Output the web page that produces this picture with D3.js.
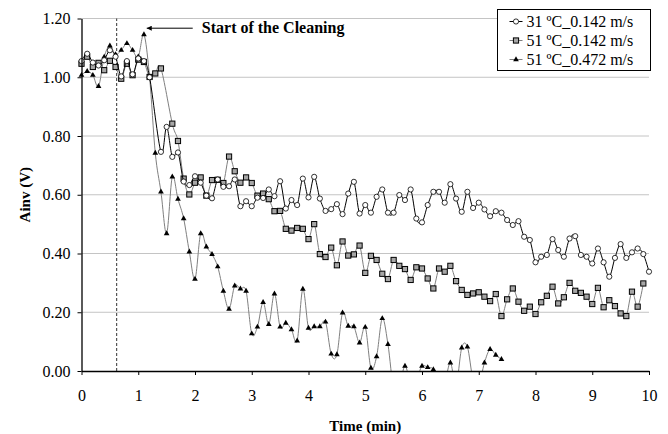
<!DOCTYPE html>
<html>
<head>
<meta charset="utf-8">
<script src="https://cdn.jsdelivr.net/npm/d3@7"></script>
<style>
	body { margin: 0; background: #fff; }
	text { font-family: "Liberation Serif", "Times New Roman", serif; }
</style>
</head>
<body>
<svg id="body" width="668" height="434"></svg>
<script>
// values, one reading every 0.1 min (null = no marker there)
let seriesNames = ["31 ºC_0.142 m/s", "51 ºC_0.142 m/s", "51 ºC_0.472 m/s"]

let circleValues = [1.055, 1.08, 1.05, 1.04, 1.058, 1.092, 1.07, 1.003, 1.055, 1.01,
	1.064, 1.055, 1.0, null, 0.746, 0.831, 0.729, 0.744, 0.645, 0.633,
	0.663, 0.641, 0.597, 0.588, 0.652, 0.627, 0.629, 0.652, 0.561, 0.578,
	0.561, 0.59, 0.589, 0.618, 0.595, 0.646, 0.553, 0.582, 0.565, 0.655,
	0.591, 0.661, 0.587, 0.545, 0.551, 0.568, 0.534, 0.604, 0.644, 0.536,
	0.565, 0.539, 0.593, 0.618, 0.539, 0.539, 0.599, 0.582, 0.618, 0.519,
	0.506, 0.565, 0.61, 0.61, 0.573, 0.636, 0.587, 0.542, 0.61, 0.555,
	0.573, 0.55, 0.527, 0.544, 0.539, 0.514, 0.497, 0.51, 0.457, 0.446,
	0.37, 0.389, 0.395, 0.449, 0.412, 0.389, 0.451, 0.459, 0.395, 0.389,
	0.366, 0.417, 0.37, 0.321, 0.385, 0.432, 0.385, 0.404, 0.417, 0.398,
	0.338]

let squareValues = [1.046, 1.07, 1.035, 1.049, 1.024, 1.056, 1.035, 0.995, 1.046, 1.007,
	1.06, 1.052, 1.001, 1.013, 1.03, null, 0.842, 0.783, 0.655, 0.601,
	0.641, 0.659, 0.597, 0.65, 0.651, 0.64, 0.73, 0.68, 0.641, 0.659,
	0.64, 0.597, 0.604, 0.585, 0.544, 0.545, 0.484, 0.478, 0.487, 0.484,
	0.449, 0.5, 0.398, 0.388, 0.42, 0.36, 0.441, 0.393, 0.397, 0.427,
	0.334, 0.392, 0.378, 0.331, 0.313, 0.378, 0.358, 0.347, 0.31, 0.353,
	0.349, 0.315, 0.281, 0.349, 0.338, 0.358, 0.306, 0.276, 0.259, 0.264,
	0.268, 0.253, 0.238, 0.262, 0.187, 0.244, 0.281, 0.236, 0.205, 0.219,
	0.194, 0.234, 0.256, 0.287, 0.23, 0.251, 0.3, 0.273, 0.266, 0.253,
	0.228, 0.283, 0.217, 0.241, 0.221, 0.196, 0.187, 0.27, 0.219, 0.298]

let triangleValues = [1.007, 1.02, 1.007, 0.969, 1.069, 1.107, 1.077, 1.092, 1.115, 1.092,
	1.07, 1.145, 1.0, 0.742, 0.61, 0.468, 0.661, 0.585, 0.519, 0.406,
	0.313, 0.468, 0.423, 0.397, 0.355, 0.272, 0.211, 0.29, 0.28, 0.272,
	0.127, 0.15, 0.234, 0.159, 0.263, 0.15, 0.163, 0.141, 0.103, 0.279,
	0.146, 0.151, 0.151, 0.167, 0.058, 0.056, 0.198, 0.153, 0.151, 0.096,
	0.149, 0.01, 0.049, 0.179, 0.091, -0.06, -0.05, 0.017, -0.04, -0.03,
	0.017, 0.012, 0.005, -0.05, -0.04, 0.028, -0.05, 0.079, 0.082, -0.03,
	-0.05, 0.028, 0.074, 0.054, 0.04]

let xTicks = [0, 1, 2, 3, 4, 5, 6, 7, 8, 9, 10]
let yTicks = [0, 0.2, 0.4, 0.6, 0.8, 1.0, 1.2]

let cleaningStart = 0.62
let annotation = "Start of the Cleaning"

let body = d3.select("#body")

//Set dimensions and margins of graph
let margin = {top: 18.5, left: 81.5}
let bodyWidth = 567.5
let bodyHeight = 352.5

let xscale = d3.scaleLinear().domain([0, 10]).range([0, bodyWidth])
let yscale = d3.scaleLinear().domain([0, 1.2]).range([bodyHeight, 0])

let plot = body.append("g")
	.attr("transform", "translate(" + margin.left + "," + margin.top + ")")

plot.append("clipPath").attr("id", "clip")
	.append("rect")
	.attr("x", 0).attr("y", -5)
	.attr("width", bodyWidth + 5).attr("height", bodyHeight + 5)

//gridlines
plot.append("g").selectAll("line")
	.data(yTicks.filter(d => d > 0))
	.enter().append("line")
	.attr("x1", 0).attr("x2", bodyWidth)
	.attr("y1", d => yscale(d)).attr("y2", d => yscale(d))
	.attr("stroke", "#c4c4c4")
	.attr("stroke-width", 1)

//dashed start line
plot.append("line")
	.attr("x1", xscale(cleaningStart)).attr("x2", xscale(cleaningStart))
	.attr("y1", yscale(0)).attr("y2", yscale(1.2))
	.attr("stroke", "#333")
	.attr("stroke-width", 1)
	.attr("stroke-dasharray", "3,2")

function toPoints(values) {
	return values.map((v, i) => ({time: i / 10, value: v})).filter(d => d.value !== null)
}

let series = [
	{name: seriesNames[0], points: toPoints(circleValues), line: "#000", marker: "circle"},
	{name: seriesNames[1], points: toPoints(squareValues), line: "#7f7f7f", marker: "square"},
	{name: seriesNames[2], points: toPoints(triangleValues), line: "#7f7f7f", marker: "triangle"}
]

let valueLine = d3.line()
	.x(d => xscale(d.time))
	.y(d => yscale(d.value))
	.curve(d3.curveCardinal.tension(0))

function drawMarker(sel, type) {
	if (type === "circle") {
		sel.append("circle").attr("r", 2.6)
			.attr("fill", "#fff").attr("stroke", "#000").attr("stroke-width", 0.8)
	} else if (type === "square") {
		sel.append("rect").attr("x", -2.6).attr("y", -2.6).attr("width", 5.2).attr("height", 5.2)
			.attr("fill", "#a6a6a6").attr("stroke", "#000").attr("stroke-width", 1)
	} else {
		sel.append("path").attr("d", d3.symbol().type(d3.symbolTriangle).size(14))
			.attr("fill", "#000")
	}
}

//draw series back to front
series.slice().reverse().forEach(s => {
	plot.append("path")
		.datum(s.points)
		.attr("d", valueLine)
		.attr("fill", "none")
		.attr("stroke", s.line)
		.attr("stroke-width", 1)
		.attr("clip-path", "url(#clip)")

	let marks = plot.append("g").selectAll("g")
		.data(s.points.filter(d => d.value >= 0))
		.enter().append("g")
		.attr("transform", d => "translate(" + xscale(d.time) + "," + yscale(d.value) + ")")
	drawMarker(marks, s.marker)
})

//Add the y axis
let yAxis = plot.append("g")
	.call(d3.axisLeft(yscale).tickValues(yTicks).tickFormat(d3.format(".2f")).tickSize(4).tickSizeOuter(0))
yAxis.selectAll("text").style("font-size", "16px").attr("fill", "#000").attr("x", -11)
yAxis.selectAll("line").attr("stroke", "#000")
yAxis.select(".domain").attr("stroke", "#000").attr("stroke-width", 1.3)

//Add the x axis
let xAxis = plot.append("g")
	.attr("transform", "translate(0," + bodyHeight + ")")
	.call(d3.axisBottom(xscale).tickValues(xTicks).tickFormat(d3.format("d")).tickSize(4).tickSizeOuter(0))
xAxis.selectAll("text").style("font-size", "16px").attr("fill", "#000").attr("y", 19)
xAxis.selectAll("line").attr("stroke", "#000")
xAxis.select(".domain").attr("stroke", "#000").attr("stroke-width", 1.3)

//axis labels
body.append("text")
	.attr("x", margin.left + bodyWidth / 2)
	.attr("y", 431)
	.style("text-anchor", "middle")
	.style("font-size", "15px")
	.style("font-weight", "bold")
	.text("Time (min)")

body.append("text")
	.attr("transform", "translate(30," + (margin.top + bodyHeight / 2) + ") rotate(-90)")
	.style("text-anchor", "middle")
	.style("font-size", "15px")
	.style("font-weight", "bold")
	.text("Ainv (V)")

//annotation arrow
plot.append("defs").append("marker")
	.attr("id", "arrow")
	.attr("viewBox", "0 0 10 10")
	.attr("refX", 10).attr("refY", 5)
	.attr("markerWidth", 7).attr("markerHeight", 5)
	.attr("orient", "auto")
	.append("path").attr("d", "M0,0 L10,5 L0,10 z").attr("fill", "#000")

plot.append("line")
	.attr("x1", xscale(1.96)).attr("x2", xscale(1.15))
	.attr("y1", yscale(1.167)).attr("y2", yscale(1.167))
	.attr("stroke", "#000")
	.attr("stroke-width", 1)
	.attr("marker-end", "url(#arrow)")

plot.append("text")
	.attr("x", xscale(2.12))
	.attr("y", yscale(1.167) + 5)
	.style("font-size", "16px")
	.style("font-weight", "bold")
	.text(annotation)

//legend
let legend = body.append("g").attr("transform", "translate(497.5,9.5)")
legend.append("rect")
	.attr("width", 153).attr("height", 61)
	.attr("fill", "#fff").attr("stroke", "#000").attr("stroke-width", 1)

series.forEach((s, i) => {
	let row = legend.append("g").attr("transform", "translate(0," + (12 + i * 19) + ")")
	row.append("line")
		.attr("x1", 12).attr("x2", 25)
		.attr("stroke", s.line).attr("stroke-width", 1)
	drawMarker(row.append("g").attr("transform", "translate(18.5,0)"), s.marker)
	row.append("text")
		.attr("x", 29).attr("y", 5.5)
		.style("font-size", "16px")
		.text(s.name)
})
</script>
</body>
</html>
